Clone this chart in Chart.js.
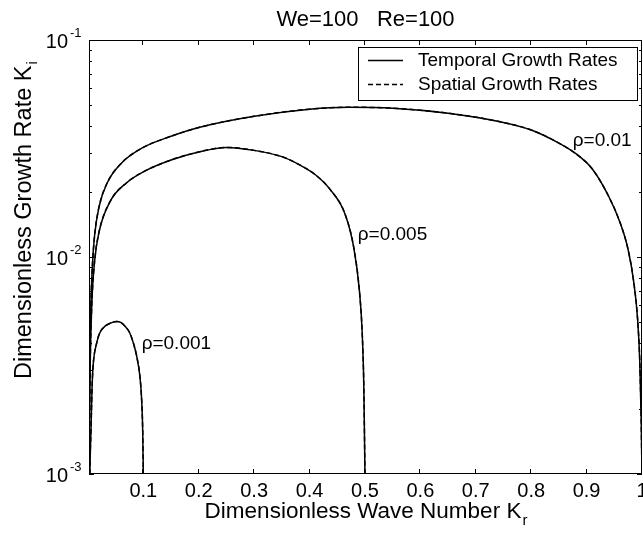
<!DOCTYPE html>
<html><head><meta charset="utf-8">
<script src="https://cdn.jsdelivr.net/npm/chart.js@4/dist/chart.umd.min.js"></script>
<style>html,body{margin:0;padding:0;background:#fff}</style>
</head><body>
<canvas id="c" width="643" height="538" style="display:block;width:643px;height:538px"></canvas>
<script>
// ---- data ----
const chartTitle = 'We=100   Re=100';
const xTickValues = [0.1, 0.2, 0.3, 0.4, 0.5, 0.6, 0.7, 0.8, 0.9, 1];
const xTickLabels = ['0.1','0.2','0.3','0.4','0.5','0.6','0.7','0.8','0.9','1'];
const yTickValues = [0.001, 0.01, 0.1];
const yTickExponents = ['-3','-2','-1'];
const seriesNames = ['Temporal Growth Rates', 'Spatial Growth Rates'];

// rho = 0.01
const k01 = [0.002,0.003,0.005,0.008,0.012,0.02,0.035,0.06,0.1,0.15,0.2,0.3,0.4,0.47,0.55,0.65,0.744,0.8,0.85,0.88,0.91,0.94,0.96,0.975,0.985,0.992,0.996,0.9985,1.0];
const temporal01 = [0.001,0.0025,0.0055,0.009,0.0125,0.017,0.022,0.027,0.032,0.036,0.0395,0.0445,0.048,0.049,0.0485,0.046,0.042,0.0385,0.0335,0.030,0.0255,0.019,0.0145,0.0108,0.0077,0.0052,0.0033,0.0018,0.001];
const spatial01  = [0.001,0.0025,0.0055,0.009,0.0125,0.017,0.022,0.027,0.032,0.036,0.0395,0.0445,0.048,0.049,0.0485,0.046,0.042,0.0385,0.0335,0.030,0.0255,0.019,0.0145,0.0108,0.0077,0.0052,0.0033,0.0018,0.001];
// rho = 0.005
const k005 = [0.002,0.004,0.007,0.012,0.02,0.04,0.07,0.1,0.15,0.2,0.25,0.3,0.35,0.383,0.41,0.437,0.464,0.48,0.49,0.495,0.498,0.5];
const temporal005 = [0.001,0.003,0.006,0.0095,0.013,0.018,0.022,0.0247,0.028,0.0305,0.032,0.031,0.029,0.0265,0.024,0.0205,0.0158,0.011,0.007,0.0045,0.0025,0.001];
const spatial005  = [0.001,0.003,0.006,0.0095,0.013,0.018,0.022,0.0247,0.028,0.0305,0.032,0.031,0.029,0.0265,0.024,0.0205,0.0158,0.011,0.007,0.0045,0.0025,0.001];
// rho = 0.001
const k001 = [0.0035,0.0045,0.0056,0.0074,0.0092,0.0159,0.022,0.031,0.042,0.052,0.06,0.067,0.075,0.082,0.088,0.094,0.097,0.099,0.1];
const temporal001 = [0.001,0.0013,0.0016,0.00244,0.0031,0.00402,0.0045,0.0048,0.00497,0.00504,0.00498,0.0048,0.0045,0.00402,0.0035,0.0028,0.0022,0.00155,0.001];
const spatial001  = [0.001,0.0013,0.0016,0.00244,0.0031,0.00402,0.0045,0.0048,0.00497,0.00504,0.00498,0.0048,0.0045,0.00402,0.0035,0.0028,0.0022,0.00155,0.001];

const curveLabels = ['\u03C1=0.01', '\u03C1=0.005', '\u03C1=0.001'];
const curveLabelAt = [[0.875, 0.0345], [0.487, 0.0126], [0.097, 0.0040]];

const FONT = '"Liberation Sans", Arial, Helvetica, sans-serif';
const pts = (xs, ys) => xs.map((x, i) => ({x, y: ys[i]}));
const mk = (data, dashed) => ({
  data, showLine: true, pointRadius: 0, borderColor: '#000', borderWidth: 1.5,
  borderDash: dashed ? [5, 3] : [], fill: false, cubicInterpolationMode: 'monotone'
});

const decor = {
  id: 'decor',
  afterDraw(chart) {
    const ctx = chart.ctx, a = chart.chartArea, xs = chart.scales.x, ys = chart.scales.y;
    ctx.save();
    ctx.strokeStyle = '#000'; ctx.fillStyle = '#000'; ctx.lineWidth = 1;
    ctx.strokeRect(a.left + 0.5, a.top + 0.5, a.right - a.left - 1, a.bottom - a.top - 1);
    ctx.beginPath();
    xTickValues.forEach(v => {
      const p = Math.round(xs.getPixelForValue(v)) - 0.5;
      ctx.moveTo(p, a.bottom); ctx.lineTo(p, a.bottom - 5);
      ctx.moveTo(p, a.top); ctx.lineTo(p, a.top + 5);
    });
    for (let e = -3; e <= -1; e++) {
      for (let m = 1; m <= 9; m++) {
        const v = m * Math.pow(10, e);
        if (v > 0.1 + 1e-12) break;
        const p = Math.round(ys.getPixelForValue(v)) + 0.5;
        const len = m === 1 ? 5 : 3;
        ctx.moveTo(a.left, p); ctx.lineTo(a.left + len, p);
        ctx.moveTo(a.right, p); ctx.lineTo(a.right - len, p);
      }
    }
    ctx.stroke();
    ctx.font = '20px ' + FONT; ctx.textAlign = 'center'; ctx.textBaseline = 'alphabetic';
    xTickValues.forEach((v, i) => {
      ctx.fillText(xTickLabels[i], xs.getPixelForValue(v), 497);
    });
    yTickValues.forEach((v, i) => {
      const p = ys.getPixelForValue(v);
      ctx.font = '20px ' + FONT; ctx.textAlign = 'right';
      ctx.fillText('10', 68, p + 8);
      ctx.font = '13px ' + FONT; ctx.textAlign = 'left';
      ctx.fillText(yTickExponents[i], 70, p - 3);
    });
    ctx.font = '22px ' + FONT; ctx.textAlign = 'center';
    ctx.fillText(chartTitle, (a.left + a.right) / 2, 26);
    const xt = 'Dimensionless Wave Number K';
    ctx.font = '22.5px ' + FONT;
    const w1 = ctx.measureText(xt).width;
    ctx.font = '15px ' + FONT;
    const w2 = ctx.measureText('r').width;
    const cx = (a.left + a.right) / 2 - (w1 + w2) / 2;
    ctx.textAlign = 'left';
    ctx.font = '22.5px ' + FONT; ctx.fillText(xt, cx, 518);
    ctx.font = '15px ' + FONT; ctx.fillText('r', cx + w1 + 1, 525);
    const yt = 'Dimensionless Growth Rate K';
    ctx.save();
    ctx.translate(31, 379); ctx.rotate(-Math.PI / 2);
    ctx.font = '23.5px ' + FONT; ctx.textAlign = 'left';
    const w3 = ctx.measureText(yt).width;
    ctx.fillText(yt, 0, 0);
    ctx.font = '15px ' + FONT; ctx.fillText('i', w3 + 1, 6);
    ctx.restore();
    ctx.font = '19px ' + FONT; ctx.textAlign = 'left'; ctx.textBaseline = 'middle';
    curveLabels.forEach((t, i) => {
      ctx.fillText(t, xs.getPixelForValue(curveLabelAt[i][0]), ys.getPixelForValue(curveLabelAt[i][1]));
    });
    ctx.fillStyle = '#fff';
    ctx.fillRect(358, 47, 279, 53);
    ctx.strokeStyle = '#000';
    ctx.strokeRect(358.5, 47.5, 279, 53);
    ctx.fillStyle = '#000';
    const rows = [60, 84];
    rows.forEach((yy, i) => {
      ctx.beginPath();
      ctx.setLineDash(i === 0 ? [] : [5, 3]);
      ctx.lineWidth = 1.4;
      ctx.moveTo(368, yy + 0.5); ctx.lineTo(403, yy + 0.5); ctx.stroke();
      ctx.setLineDash([]);
      ctx.font = '19px ' + FONT; ctx.textBaseline = 'middle';
      ctx.fillText(seriesNames[i], 418, yy + 1);
    });
    ctx.restore();
  }
};

new Chart(document.getElementById('c'), {
  type: 'scatter',
  data: {
    datasets: [
      mk(pts(k01, temporal01), false), mk(pts(k01, spatial01), true),
      mk(pts(k005, temporal005), false), mk(pts(k005, spatial005), true),
      mk(pts(k001, temporal001), false), mk(pts(k001, spatial001), true)
    ]
  },
  options: {
    responsive: false, animation: false, devicePixelRatio: 1,
    layout: { padding: { top: 40, right: 1, left: 0, bottom: 0 } },
    plugins: { legend: { display: false }, tooltip: { enabled: false }, title: { display: false } },
    scales: {
      x: {
        type: 'linear', min: 0.002, max: 1,
        ticks: { display: false }, grid: { display: false, drawTicks: false }, border: { display: false },
        afterFit(s) { s.height = 64; }
      },
      y: {
        type: 'logarithmic', min: 0.001, max: 0.1,
        ticks: { display: false }, grid: { display: false, drawTicks: false }, border: { display: false },
        afterFit(s) { s.width = 89; }
      }
    }
  },
  plugins: [decor]
});
</script>
</body></html>
